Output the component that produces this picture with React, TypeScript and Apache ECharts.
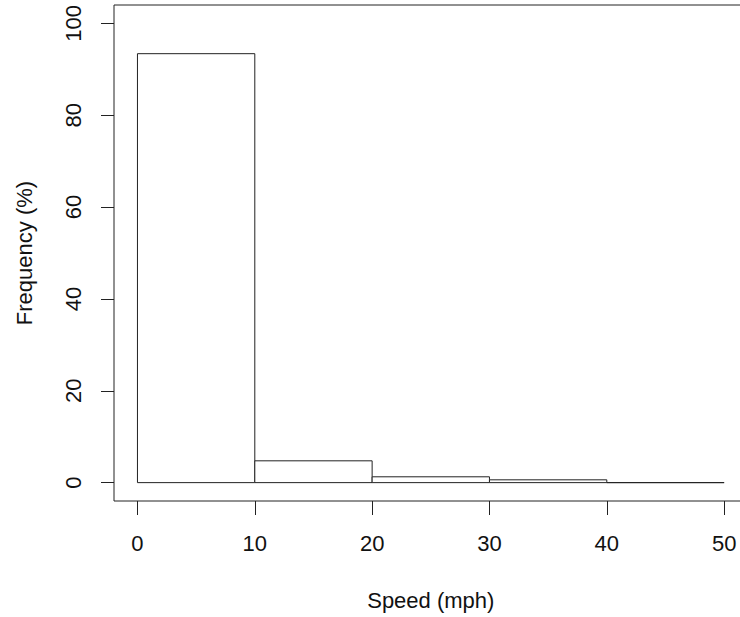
import React, { useEffect, useRef } from "react";
import * as echarts from "echarts";

const binStarts = [0, 10, 20, 30, 40];
const binEnds = [10, 20, 30, 40, 50];
const frequencies = [93.4, 4.75, 1.27, 0.61, 0.0];
const xTicks = [0, 10, 20, 30, 40, 50];
const yTicks = [0, 20, 40, 60, 80, 100];

export default function App() {
  const ref = useRef<HTMLDivElement>(null);
  useEffect(() => {
    if (!ref.current) return;
    const chart = echarts.init(ref.current, null, { renderer: "svg" });
    const data = binStarts.map((s, i) => [s, binEnds[i], frequencies[i]]);
    const font = "Liberation Sans, Arial, sans-serif";
    chart.setOption({
      animation: false,
      backgroundColor: "#ffffff",
      grid: {
        left: 114,
        top: 5,
        right: -7.6,
        height: 496,
        outerBoundsMode: "none",
        containLabel: false,
        show: true,
        borderColor: "#222",
        borderWidth: 1,
        backgroundColor: "transparent",
      },
      xAxis: {
        type: "value",
        min: -2,
        max: 52,
        name: "Speed (mph)",
        nameLocation: "middle",
        nameGap: 88,
        nameTextStyle: { fontFamily: font, fontSize: 22, color: "#111" },
        axisLine: { show: false, onZero: false },
        splitLine: { show: false },
        axisTick: {
          show: true,
          inside: false,
          length: 14,
          lineStyle: { color: "#222", width: 1 },
          customValues: xTicks,
        },
        axisLabel: {
          margin: 31,
          fontFamily: font,
          fontSize: 22,
          color: "#111",
          customValues: xTicks,
        },
      },
      yAxis: {
        type: "value",
        min: -4,
        max: 104,
        name: "Frequency (%)",
        nameLocation: "middle",
        nameGap: 79,
        nameTextStyle: { fontFamily: font, fontSize: 22, color: "#111" },
        axisLine: { show: false, onZero: false },
        splitLine: { show: false },
        axisTick: {
          show: true,
          inside: false,
          length: 13,
          lineStyle: { color: "#222", width: 1 },
          customValues: yTicks,
        },
        axisLabel: {
          margin: 30,
          rotate: 90,
          fontFamily: font,
          fontSize: 22,
          color: "#111",
          customValues: yTicks,
        },
      },
      series: [
        {
          type: "custom",
          data,
          encode: { x: [0, 1], y: 2 },
          renderItem: (params: any, api: any) => {
            const x0 = api.value(0);
            const x1 = api.value(1);
            const y = api.value(2);
            const p0 = api.coord([x0, 0]);
            const p1 = api.coord([x1, y]);
            return {
              type: "rect",
              shape: {
                x: p0[0],
                y: p1[1],
                width: p1[0] - p0[0],
                height: p0[1] - p1[1],
              },
              style: { fill: "#ffffff", stroke: "#222", lineWidth: 1 },
            };
          },
        },
      ],
    });
    return () => chart.dispose();
  }, []);
  return (
    <div
      ref={ref}
      style={{
        position: "fixed",
        left: 0,
        top: 0,
        width: 740,
        height: 617,
        overflow: "hidden",
        background: "#fff",
      }}
    />
  );
}
